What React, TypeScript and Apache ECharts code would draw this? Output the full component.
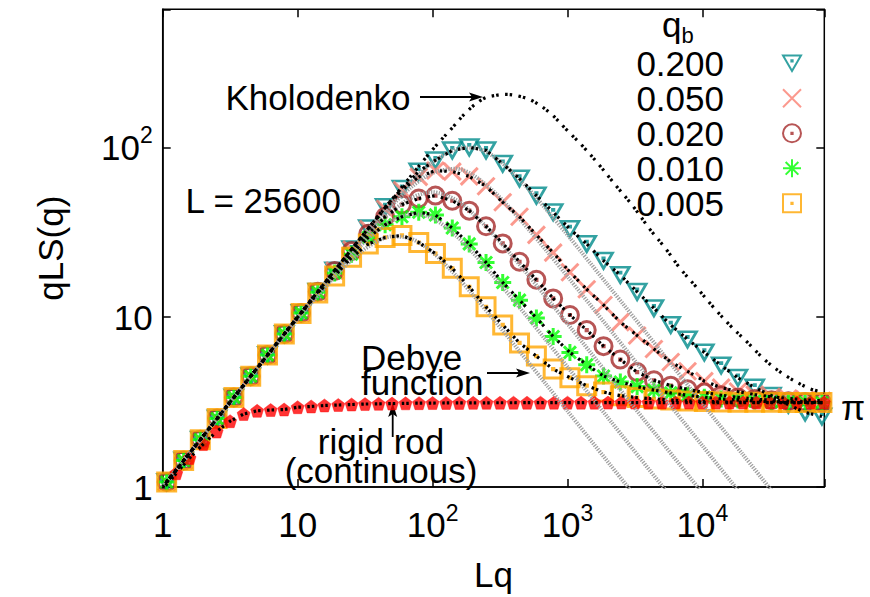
import React, { useEffect, useRef } from 'react';
import * as echarts from 'echarts';

// ---- data ----
const lqValues = [1.07, 1.43, 1.90, 2.53, 3.37, 4.49, 5.98, 7.97, 10.6, 14.1, 18.8, 25.1, 33.4, 44.5, 59.3, 79.0, 105, 140, 187, 249, 331, 441, 588, 783, 1042, 1388, 1849, 2463, 3281, 4370, 5821, 7753, 10328, 13757, 18323, 24406, 32509, 43302, 57677, 76824];

const qb0200 = [1.07, 1.43, 1.90, 2.53, 3.37, 4.49, 5.98, 7.97, 10.6, 14.1, 18.8, 25.1, 33.4, 44.5, 57, 72, 84, 96, 100, 96, 80, 65.5, 52, 41.5, 33, 27, 21.5, 17.7, 14.1, 11.3, 9.0, 7.4, 6.2, 5.2, 4.4, 3.85, 3.45, 3.05, 2.75, 2.6];
const qb0050 = [1.07, 1.43, 1.90, 2.53, 3.37, 4.49, 5.98, 7.97, 10.6, 14.1, 18.8, 25.0, 33, 43.5, 56, 67, 73, 72, 67.5, 59, 47.5, 39, 30.5, 24, 18.4, 14.6, 11.8, 9.35, 7.8, 6.5, 5.45, 4.8, 4.2, 3.85, 3.65, 3.5, 3.4, 3.32, 3.26, 3.22];
const qb0020 = [1.07, 1.43, 1.90, 2.53, 3.37, 4.49, 5.98, 7.97, 10.6, 14.1, 18.7, 24.5, 31, 39, 46, 50, 52, 48.5, 42.4, 34.3, 27.2, 21.2, 16.6, 12.9, 10.3, 8.4, 6.75, 5.63, 4.75, 4.25, 3.95, 3.76, 3.6, 3.47, 3.37, 3.3, 3.24, 3.2, 3.17, 3.15];
const qb0010 = [1.07, 1.43, 1.90, 2.53, 3.37, 4.49, 5.98, 7.97, 10.6, 14.0, 18.2, 23.5, 29.5, 35, 39, 41.5, 40, 33.5, 27, 21, 16, 12.6, 9.9, 7.7, 6.2, 5.25, 4.5, 4.15, 3.9, 3.72, 3.58, 3.47, 3.38, 3.3, 3.25, 3.21, 3.18, 3.16, 3.15, 3.14];
const qb0005 = [1.07, 1.43, 1.90, 2.53, 3.37, 4.49, 5.98, 7.97, 10.5, 13.9, 17.5, 22.5, 27, 29.5, 30.3, 27.5, 23.7, 19.4, 15.1, 11.5, 9.0, 7.05, 5.9, 4.95, 4.4, 3.95, 3.62, 3.45, 3.36, 3.3, 3.25, 3.21, 3.19, 3.17, 3.16, 3.15, 3.15, 3.14, 3.14, 3.14];

const rodLq = [1, 1.26, 1.58, 2.0, 2.51, 3.16, 3.98, 5.01, 6.31, 7.94, 10, 12.6, 15.8, 20.0, 25.1, 31.6, 39.8, 50.1, 63.1, 79.4, 100, 126, 158, 200, 251, 316, 398, 501, 631, 794, 1000, 1259, 1585, 1995, 2512, 3162, 3981, 5012, 6310, 7943, 10000, 12589, 15849, 19953, 25119, 31623, 39811, 50119, 63096, 79433];
const rodQLS = [0.973, 1.205, 1.48, 1.79, 2.12, 2.44, 2.69, 2.81, 2.84, 2.86, 2.95, 2.98, 3.02, 3.04, 3.06, 3.08, 3.09, 3.10, 3.11, 3.116, 3.122, 3.125, 3.128, 3.13, 3.132, 3.134, 3.135, 3.136, 3.137, 3.138, 3.138, 3.139, 3.139, 3.14, 3.14, 3.14, 3.14, 3.141, 3.141, 3.141, 3.141, 3.141, 3.141, 3.141, 3.141, 3.142, 3.142, 3.142, 3.142, 3.142];

const kholoLq = [1, 3, 10, 30, 60, 100, 142, 179, 237, 300, 353, 450, 556, 739, 984, 1306, 1735, 2306, 3062, 4070, 5410, 6790, 9030, 12000, 15900, 21200, 29800, 41900, 62300, 80000];
const kholoQLS = [1, 3, 10, 30, 59, 97, 132, 162, 193, 203, 205, 199, 187, 160, 127, 101, 78, 59, 45, 33, 25, 19.5, 15, 11.5, 9, 7.2, 5.5, 4.5, 3.8, 3.6];

const debyeLq = [1, 3, 10, 20, 30, 40, 50, 70, 100, 150, 200, 300, 500, 700, 1000, 2000, 5000, 10000, 20000, 50000];
const debye0005 = [1, 3, 9.77, 18.2, 24.5, 28.3, 29.9, 28.9, 24.1, 17.5, 13.5, 9.19, 5.57, 3.99, 2.80, 1.40, 0.56, 0.28, 0.14, 0.056];
const debye0010 = [1, 3, 9.87, 19.0, 26.8, 32.8, 37.0, 40.5, 38.3, 30.1, 23.9, 16.5, 10.1, 7.25, 5.09, 2.55, 1.02, 0.51, 0.255, 0.102];
const debye0020 = [1, 3, 9.93, 19.4, 28.1, 35.7, 42.0, 50.6, 54.5, 48.9, 40.7, 29.1, 18.1, 13.0, 9.16, 4.59, 1.84, 0.92, 0.46, 0.184];
const debye0050 = [1, 3, 9.96, 19.7, 29.0, 37.7, 45.6, 58.6, 70.7, 74.8, 68.6, 52.7, 33.8, 24.6, 17.35, 8.73, 3.50, 1.75, 0.875, 0.35];
const debye0200 = [1, 3, 9.98, 19.8, 29.4, 38.7, 47.4, 63.2, 81.6, 97.6, 99.5, 85.6, 58.2, 42.9, 30.5, 15.4, 6.20, 3.10, 1.55, 0.62];

const legendNames = ['0.200', '0.050', '0.020', '0.010', '0.005'];

// ---- styles ----
const FONT = '"Liberation Sans", Arial, Helvetica, sans-serif';
const TEAL = '#008b8b';
const SALMON = '#fa8072';
const BROWN = '#a52a2a';
const GREEN = '#00ff00';
const ORANGE = '#ffa500';
const RED = '#ff0000';
const GRAY = '#a0a0a0';

const SYM_TRI = 'path://M0,0L20,0L10,17.32Z M9.3,5.3h1.4v1.4h-1.4z';
const SYM_X = 'path://M0,0L10,10M10,0L0,10';
const SYM_CIRC = 'path://M10,0A10,10 0 1,1 10,20A10,10 0 1,1 10,0Z M9.3,9.3h1.4v1.4h-1.4z';
const SYM_STAR = 'path://M10,0L10,20M0,10L20,10M2.93,2.93L17.07,17.07M17.07,2.93L2.93,17.07';
const SYM_SQ = 'path://M0,0H20V20H0Z M9.3,9.3h1.4v1.4h-1.4z';
const SYM_PENT = 'path://M10,0L19.51,6.91L15.88,18.09L4.12,18.09L0.49,6.91Z';

const zip = (xs: number[], ys: number[]) => xs.map((x, i) => [x, ys[i]]);

function decadeLabel(v: number) {
  const l = Math.log10(v);
  const e = Math.round(l);
  if (Math.abs(l - e) > 1e-6) return '';
  if (e === 0) return '{a|1}';
  if (e === 1) return '{a|10}';
  return '{a|10}{b|' + e + '}';
}

const richX = {
  a: { fontSize: 35, lineHeight: 41, verticalAlign: 'bottom', fontFamily: FONT, color: '#000' },
  b: { fontSize: 23, verticalAlign: 'top', fontFamily: FONT, color: '#000' },
};
const richY = {
  a: { fontSize: 35, verticalAlign: 'middle', fontFamily: FONT, color: '#000' },
  b: { fontSize: 23, padding: [0, 0, 24, 0], verticalAlign: 'middle', fontFamily: FONT, color: '#000' },
};

const tickStyle = { show: true, inside: true, length: 8, lineStyle: { color: '#000', width: 1.5 } };

const markerSeries = (name: string, ys: number[], symbol: string, size: any, color: string, bw: number) => ({
  type: 'scatter',
  name,
  data: zip(lqValues, ys),
  symbol,
  symbolSize: size,
  itemStyle: { color: 'rgba(0,0,0,0)', borderColor: color, borderWidth: bw },
  silent: true,
});

const debyeLine = (ys: number[]) => ({
  type: 'line',
  data: zip(debyeLq, ys),
  symbol: 'none',
  smooth: 0.3,
  lineStyle: { color: GRAY, width: 4, type: [1.3, 1.3] },
  silent: true,
});

const blackDotted = (xs: number[], ys: number[], smooth: any = false) => ({
  type: 'line',
  data: zip(xs, ys),
  symbol: 'none',
  smooth,
  lineStyle: { color: '#000', width: 3.2, type: [2.5, 2, 2.5, 6.5] },
  silent: true,
});

const arrowHead = (tx: number, ty: number, dir: 'right' | 'up') => {
  const L = 14, W = 4.5, N = 11;
  const pts = dir === 'right'
    ? [[tx, ty], [tx - L, ty - W], [tx - N, ty], [tx - L, ty + W]]
    : [[tx, ty], [tx - W, ty + L], [tx, ty + N], [tx + W, ty + L]];
  return { type: 'polygon', shape: { points: pts }, style: { fill: '#000' }, silent: true };
};

const txt = (text: string, x: number, y: number, align = 'left', extra: any = {}) => ({
  type: 'text',
  x, y,
  style: { text, fontSize: 35, fontFamily: FONT, fill: '#000', align, verticalAlign: 'middle', ...extra },
  silent: true,
});

export default function App() {
  const ref = useRef<HTMLDivElement>(null);
  useEffect(() => {
    const chart = echarts.init(ref.current!, null, { renderer: 'svg' });
    const option: any = {
      animation: false,
      backgroundColor: '#fff',
      grid: { left: 162.7, right: 45.7, top: 9.3, bottom: 107, show: true, borderColor: '#000', borderWidth: 1.5, backgroundColor: 'transparent' },
      xAxis: [
        {
          type: 'log', logBase: 10, min: 1, max: 80000, position: 'bottom',
          axisLine: { show: true, lineStyle: { color: '#000', width: 1.5 } },
          axisTick: tickStyle, minorTick: { show: false }, splitLine: { show: false },
          axisLabel: { formatter: decadeLabel, rich: richX, margin: 14 },
          name: 'Lq', nameLocation: 'middle', nameGap: 70,
          nameTextStyle: { fontSize: 35, fontFamily: FONT, color: '#000' },
        },
        {
          type: 'log', logBase: 10, min: 1, max: 80000, position: 'top',
          axisLine: { show: false }, axisTick: tickStyle, axisLabel: { show: false }, splitLine: { show: false },
        },
      ],
      yAxis: [
        {
          type: 'log', logBase: 10, min: 1, max: 650, position: 'left',
          axisLine: { show: true, lineStyle: { color: '#000', width: 1.5 } },
          axisTick: tickStyle, minorTick: { show: false }, splitLine: { show: false },
          axisLabel: { formatter: decadeLabel, rich: richY, margin: 10 },
          name: 'qLS(q)', nameLocation: 'middle', nameGap: 95,
          nameTextStyle: { fontSize: 35, fontFamily: FONT, color: '#000' },
        },
        {
          type: 'log', logBase: 10, min: 1, max: 650, position: 'right',
          axisLine: { show: false }, axisTick: tickStyle, axisLabel: { show: false }, splitLine: { show: false },
        },
      ],
      legend: {
        show: true, orient: 'vertical', right: 68, top: 45.8, align: 'right',
        itemWidth: 18, itemHeight: 18, itemGap: 0, padding: 0, selectedMode: false,
        data: legendNames,
        textStyle: { fontSize: 35, fontFamily: FONT, color: '#000', lineHeight: 35, padding: [0, 54, 0, 0] },
      },
      series: [
        debyeLine(debye0005),
        debyeLine(debye0010),
        debyeLine(debye0020),
        debyeLine(debye0050),
        debyeLine(debye0200),
        markerSeries(legendNames[0], qb0200, SYM_TRI, [18, 15.5], TEAL, 2.7),
        markerSeries(legendNames[1], qb0050, SYM_X, 17, SALMON, 3),
        markerSeries(legendNames[2], qb0020, SYM_CIRC, 17, BROWN, 3),
        markerSeries(legendNames[3], qb0010, SYM_STAR, 17, GREEN, 3),
        markerSeries(legendNames[4], qb0005, SYM_SQ, 18, ORANGE, 3),
        {
          type: 'scatter', name: 'rigid rod', data: zip(rodLq, rodQLS), symbol: SYM_PENT, symbolSize: 13,
          itemStyle: { color: RED, borderColor: RED, borderWidth: 0.5 }, silent: true,
        },
        blackDotted(kholoLq, kholoQLS, 0.35),
        blackDotted(lqValues, qb0200),
        blackDotted(lqValues, qb0050),
        blackDotted(lqValues, qb0020),
        blackDotted(lqValues, qb0010),
        blackDotted(lqValues, qb0005),
        blackDotted(rodLq, rodQLS),
      ],
      graphic: [
        txt('{q|q}{s|b}', 662, 19, 'left', {
          rich: {
            q: { fontSize: 35, lineHeight: 24, fontFamily: FONT, verticalAlign: 'top' },
            s: { fontSize: 22, lineHeight: 24, fontFamily: FONT, verticalAlign: 'top', padding: [17, 0, 0, 0] },
          },
        }),
        txt('Kholodenko', 225.5, 97),
        { type: 'line', shape: { x1: 420, y1: 97, x2: 478, y2: 97 }, style: { stroke: '#000', lineWidth: 1.8 }, silent: true },
        arrowHead(483, 97, 'right'),
        txt('L = 25600', 185.5, 200),
        txt('Debye\nfunction', 361, 370, 'left', { lineHeight: 25 }),
        { type: 'line', shape: { x1: 487, y1: 373, x2: 525, y2: 373 }, style: { stroke: '#000', lineWidth: 1.8 }, silent: true },
        arrowHead(530, 373, 'right'),
        txt('rigid rod\n(continuous)', 381, 456, 'center', { lineHeight: 29 }),
        { type: 'line', shape: { x1: 392.7, y1: 437, x2: 392.7, y2: 408 }, style: { stroke: '#000', lineWidth: 1.8 }, silent: true },
        arrowHead(392.7, 403, 'up'),
        txt('\u03c0', 841, 407),
      ],
    };
    chart.setOption(option);
    return () => chart.dispose();
  }, []);
  return <div ref={ref} style={{ position: 'fixed', left: 0, top: 0, width: 870, height: 597, background: '#fff' }} />;
}
